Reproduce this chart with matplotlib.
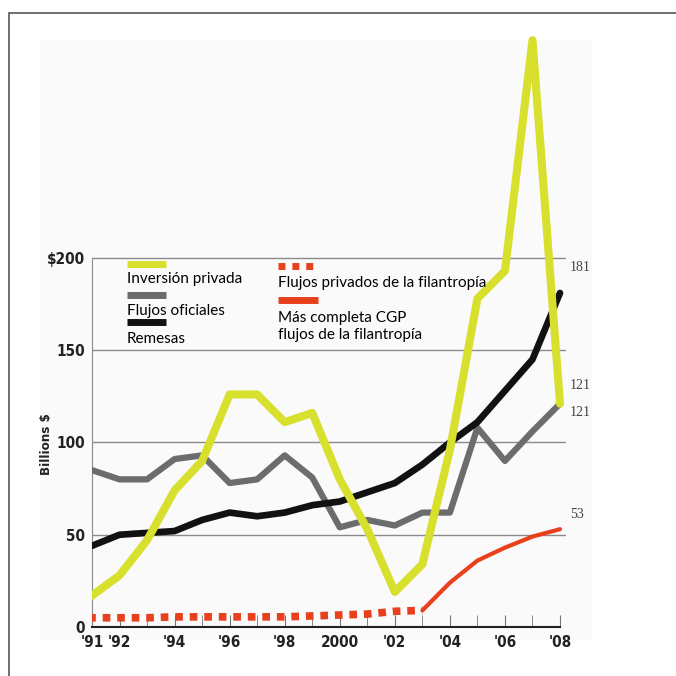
import matplotlib
matplotlib.use("Agg")
import matplotlib.pyplot as plt
from matplotlib.lines import Line2D
from matplotlib.patches import Rectangle

years = list(range(1991, 2009))
inversion_privada = [17, 28, 47, 74, 90, 126, 126, 111, 116, 80, 53, 19, 34, 96, 178, 193, 318, 121]
flujos_oficiales = [85, 80, 80, 91, 93, 78, 80, 93, 81, 54, 58, 55, 62, 62, 108, 90, 106, 121]
remesas = [44, 50, 51, 52, 58, 62, 60, 62, 66, 68, 73, 78, 88, 100, 111, 128, 145, 181]
filantropia_years = list(range(1991, 2004))
filantropia = [5, 5, 5, 5.5, 5.5, 5.5, 5.5, 5.5, 6, 6.5, 7, 8.5, 9]
cgp_years = list(range(2003, 2009))
cgp = [9, 24, 36, 43, 49, 53]

xtick_pos = [1991, 1992, 1994, 1996, 1998, 2000, 2002, 2004, 2006, 2008]
xtick_labels = ["'91", "'92", "'94", "'96", "'98", "2000", "'02", "'04", "'06", "'08"]
ytick_pos = [0, 50, 100, 150, 200]
ytick_labels = ["0", "50", "100", "150", "$200"]

YELLOW = "#d8e02e"
GRAY = "#6b6c6e"
BLACK = "#111111"
RED = "#e8401c"
COND = dict(fontfamily="DejaVu Sans", fontstretch="condensed", fontweight="bold", color="#222222")
LIGHT = ["Lato", "DejaVu Sans"]

fig = plt.figure(figsize=(6.76, 6.76), dpi=100)
fig.patches.append(Rectangle((9 / 676, -0.1), 1.2, 1 - 13 / 676 + 0.1, transform=fig.transFigure,
                             fill=False, edgecolor="#555555", linewidth=1.2, zorder=-2))
fig.patches.append(Rectangle((40 / 676, 36 / 676), 552 / 676, 600 / 676, transform=fig.transFigure,
                             facecolor="#fafafa", edgecolor="none", zorder=-1))

ax = fig.add_axes([92 / 676, 1 - 627 / 676, (27.53 * 17.2) / 676, 609 / 676])
ax.set_zorder(2)
ax.set_facecolor("none")
ax.set_xlim(1991, 2008.2)
ax.set_ylim(0, 330)

for v in ytick_pos[1:]:
    ax.axhline(v, xmin=0, xmax=1.0, color="#8a8a8a", linewidth=1.0, zorder=1)

ax.plot(years, flujos_oficiales, color=GRAY, linewidth=4.5, solid_capstyle="round", solid_joinstyle="round", zorder=3)
ax.plot(years, remesas, color=BLACK, linewidth=4.8, solid_capstyle="round", solid_joinstyle="round", zorder=3)
ax.plot(filantropia_years, filantropia, color=RED, linewidth=5.5, linestyle=(0.5, (1, 0.9)),
        dash_capstyle="butt", zorder=3)
ax.plot(cgp_years, cgp, color=RED, linewidth=3, solid_capstyle="round", zorder=3)
ax.plot(years, inversion_privada, color=YELLOW, linewidth=5.8, solid_capstyle="round", solid_joinstyle="round", zorder=4)

for spine in ["top", "right"]:
    ax.spines[spine].set_visible(False)
ax.spines["left"].set_bounds(0, 200)
ax.spines["left"].set_color("#8a8a8a")
ax.spines["bottom"].set_bounds(1991, 2008)
ax.spines["bottom"].set_color("#222222")
ax.spines["bottom"].set_linewidth(1.5)

ax.set_xticks(years, minor=True)
ax.set_xticks(xtick_pos)
ax.set_xticklabels(xtick_labels, fontsize=11, **COND)
ax.tick_params(axis="x", which="both", direction="in", length=9, color="#777777", pad=6)
ax.set_yticks(ytick_pos)
ax.set_yticklabels(ytick_labels, fontsize=11, **COND)
ax.tick_params(axis="y", length=0, pad=5)
ax.set_ylabel("Billions $", fontsize=9.5, **COND)
ax.yaxis.set_label_coords(-0.082, 0.30)

end_labels = [(remesas[-1], 181 + 14), (inversion_privada[-1], 121 + 10), (flujos_oficiales[-1], 121 - 5), (cgp[-1], 53 + 8)]
for val, ypos in end_labels:
    ax.text(2008.35, ypos, f"{val}", fontfamily=["Liberation Serif", "DejaVu Serif"], fontsize=10,
            color="#444444", va="center", ha="left", clip_on=False)


# legend drawn by hand, swatch above label
def px(x, y):
    return x / 676, 1 - y / 676


def swatch(x0, x1, y, color, lw, ls="-"):
    fig.add_artist(Line2D([x0 / 676, x1 / 676], [1 - y / 676] * 2, transform=fig.transFigure, color=color,
                          linewidth=lw, linestyle=ls, solid_capstyle="butt", dash_capstyle="butt", zorder=5))


swatch(127, 166, 264, YELLOW, 5)
fig.text(*px(127, 279), "Inversión privada", fontfamily=LIGHT, fontsize=11, va="center")
swatch(127, 166, 295, GRAY, 5)
fig.text(*px(127, 311), "Flujos oficiales", fontfamily=LIGHT, fontsize=11, va="center")
swatch(127, 166, 322, BLACK, 5)
fig.text(*px(127, 339), "Remesas", fontfamily=LIGHT, fontsize=11, va="center")
swatch(278, 316, 266, RED, 5, (0, (1, 1)))
fig.text(*px(278, 283), "Flujos privados de la filantropía", fontfamily=LIGHT, fontsize=11, va="center")
swatch(278, 318, 300, RED, 5)
fig.text(*px(278, 318), "Más completa CGP", fontfamily=LIGHT, fontsize=11, va="center")
fig.text(*px(278, 335), "flujos de la filantropía", fontfamily=LIGHT, fontsize=11, va="center")

fig.savefig("out.png", dpi=100, facecolor="white")
